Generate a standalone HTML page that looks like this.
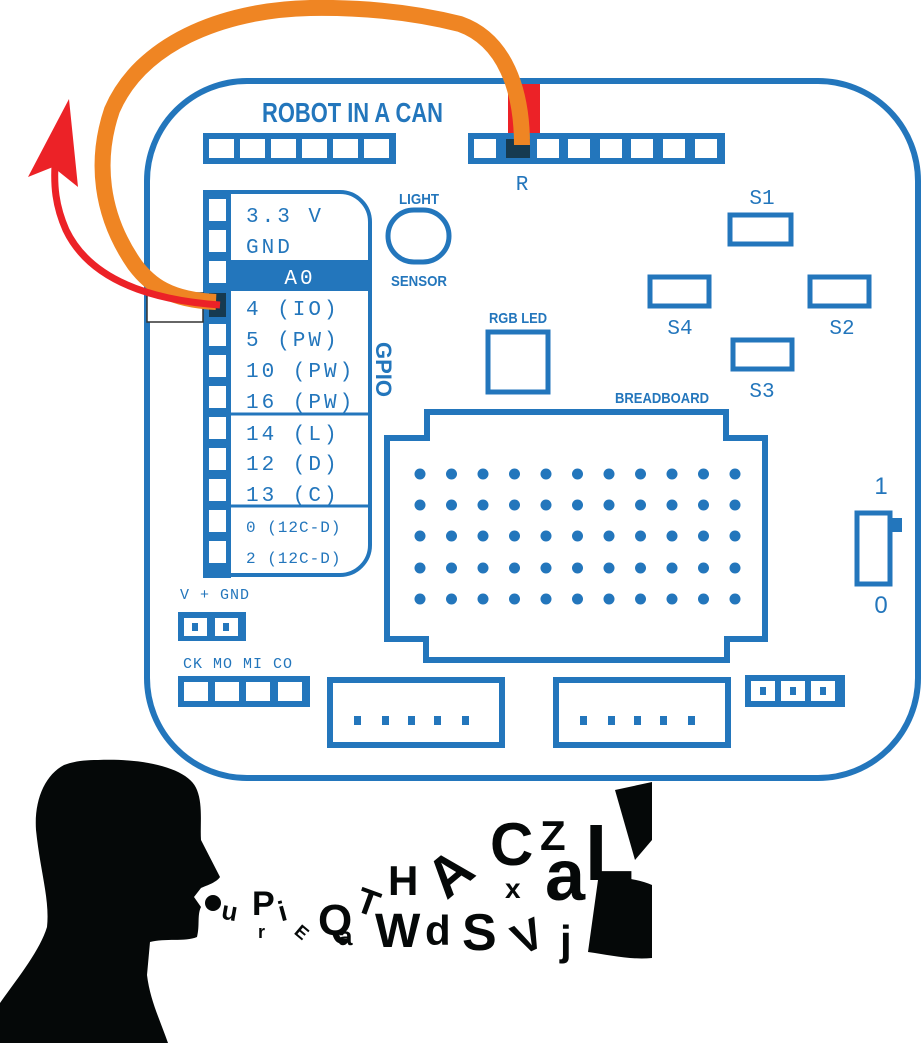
<!DOCTYPE html>
<html><head><meta charset="utf-8"><style>
html,body{margin:0;padding:0;background:#fff;}
svg{display:block}
.m{font-family:"Liberation Mono",monospace;fill:#2376bc;font-size:21px;letter-spacing:3px}
.b{font-family:"Liberation Sans",sans-serif;font-weight:bold;fill:#2376bc}
.k{font-family:"Liberation Sans",sans-serif;font-weight:bold;fill:#050808}
</style></head><body>
<svg width="922" height="1043" viewBox="0 0 922 1043" xmlns="http://www.w3.org/2000/svg">
<g fill="none" stroke="#2376bc" stroke-width="6">
<rect x="147" y="81" width="771" height="697" rx="100"/>
</g>
<rect x="508" y="84" width="32" height="50" fill="#ec2227"/>
<g fill="#2376bc">
<rect x="203" y="133" width="193" height="31"/>
<rect x="468" y="133" width="257" height="31"/>
</g>
<g fill="#fff">
<rect x="209" y="139" width="25" height="19"/><rect x="240" y="139" width="25" height="19"/><rect x="271" y="139" width="25" height="19"/><rect x="302" y="139" width="25" height="19"/><rect x="333" y="139" width="25" height="19"/><rect x="364" y="139" width="25" height="19"/>
<rect x="474" y="139" width="22" height="19"/><rect x="537" y="139" width="22" height="19"/><rect x="568" y="139" width="22" height="19"/><rect x="600" y="139" width="22" height="19"/><rect x="631" y="139" width="22" height="19"/><rect x="663" y="139" width="22" height="19"/><rect x="695" y="139" width="22" height="19"/>
</g>
<rect x="506" y="139" width="24" height="19" fill="#163a50"/>
<text x="262" y="122" class="b" font-size="28" textLength="181" lengthAdjust="spacingAndGlyphs">ROBOT IN A CAN</text>
<text x="522" y="190" class="m" text-anchor="middle" style="letter-spacing:0">R</text>
<rect x="203" y="190" width="28" height="388" fill="#2376bc"/>
<path d="M231 192 H340 A30 30 0 0 1 370 222 V545 A30 30 0 0 1 340 575 H231" fill="none" stroke="#2376bc" stroke-width="4"/>
<rect x="231" y="260" width="140" height="31" fill="#2376bc"/>
<line x1="231" y1="414" x2="370" y2="414" stroke="#2376bc" stroke-width="3"/>
<line x1="231" y1="506" x2="370" y2="506" stroke="#2376bc" stroke-width="3"/>
<g fill="#fff">
<rect x="209" y="199" width="17" height="22"/><rect x="209" y="230" width="17" height="22"/><rect x="209" y="261" width="17" height="22"/>
<rect x="209" y="324" width="17" height="22"/><rect x="209" y="355" width="17" height="22"/><rect x="209" y="386" width="17" height="22"/><rect x="209" y="417" width="17" height="22"/><rect x="209" y="448" width="17" height="22"/><rect x="209" y="479" width="17" height="22"/><rect x="209" y="510" width="17" height="22"/><rect x="209" y="541" width="17" height="22"/>
</g>
<rect x="147" y="293" width="56" height="29" fill="#fff" stroke="#333" stroke-width="1.5"/>
<rect x="209" y="293" width="17" height="24" fill="#163a50"/>
<text x="246" y="222" class="m">3.3 V</text>
<text x="246" y="253" class="m">GND</text>
<text x="300" y="284" class="m" style="fill:#fff" text-anchor="middle">A0</text>
<text x="246" y="315" class="m">4 (IO)</text>
<text x="246" y="346" class="m">5 (PW)</text>
<text x="246" y="377" class="m">10 (PW)</text>
<text x="246" y="408" class="m">16 (PW)</text>
<text x="246" y="440" class="m">14 (L)</text>
<text x="246" y="470" class="m">12 (D)</text>
<text x="246" y="501" class="m">13 (C)</text>
<text x="246" y="532" class="m" style="font-size:16px;letter-spacing:1px">0 (12C-D)</text>
<text x="246" y="563" class="m" style="font-size:16px;letter-spacing:1px">2 (12C-D)</text>
<text class="b" font-size="22" transform="translate(376,342) rotate(90)">GPIO</text>
<rect x="388" y="210" width="61" height="52" rx="26" fill="none" stroke="#2376bc" stroke-width="5"/>
<text x="419" y="204" class="b" font-size="15" text-anchor="middle" textLength="40" lengthAdjust="spacingAndGlyphs">LIGHT</text>
<text x="419" y="286" class="b" font-size="15" text-anchor="middle" textLength="56" lengthAdjust="spacingAndGlyphs">SENSOR</text>
<rect x="488" y="332" width="60" height="60" fill="none" stroke="#2376bc" stroke-width="5"/>
<text x="518" y="323" class="b" font-size="15" text-anchor="middle" textLength="58" lengthAdjust="spacingAndGlyphs">RGB LED</text>
<g fill="none" stroke="#2376bc" stroke-width="5">
<rect x="730" y="215" width="61" height="29"/>
<rect x="650" y="277" width="59" height="29"/>
<rect x="810" y="277" width="59" height="29"/>
<rect x="733" y="340" width="59" height="29"/>
</g>
<text x="762" y="204" class="m" text-anchor="middle" style="letter-spacing:0">S1</text>
<text x="680" y="334" class="m" text-anchor="middle" style="letter-spacing:0">S4</text>
<text x="842" y="334" class="m" text-anchor="middle" style="letter-spacing:0">S2</text>
<text x="762" y="397" class="m" text-anchor="middle" style="letter-spacing:0">S3</text>
<text x="662" y="403" class="b" font-size="15" text-anchor="middle" textLength="94" lengthAdjust="spacingAndGlyphs">BREADBOARD</text>
<path d="M427 412 H726 V438 H765 V639 H727 V660 H426 V639 H387 V438 H427 Z" fill="none" stroke="#2376bc" stroke-width="6"/>
<g fill="#2376bc">
<g id="row"><circle cx="420" cy="474" r="5.5"/><circle cx="451.5" cy="474" r="5.5"/><circle cx="483" cy="474" r="5.5"/><circle cx="514.5" cy="474" r="5.5"/><circle cx="546" cy="474" r="5.5"/><circle cx="577.5" cy="474" r="5.5"/><circle cx="609" cy="474" r="5.5"/><circle cx="640.5" cy="474" r="5.5"/><circle cx="672" cy="474" r="5.5"/><circle cx="703.5" cy="474" r="5.5"/><circle cx="735" cy="474" r="5.5"/></g>
<use href="#row" y="31"/><use href="#row" y="62"/><use href="#row" y="94"/><use href="#row" y="125"/>
</g>
<rect x="857" y="513" width="33" height="71" fill="none" stroke="#2376bc" stroke-width="5"/>
<rect x="889" y="518" width="13" height="14" fill="#2376bc"/>
<text x="881" y="494" font-family="Liberation Sans,sans-serif" font-size="24" fill="#2376bc" text-anchor="middle">1</text>
<text x="881" y="613" font-family="Liberation Sans,sans-serif" font-size="24" fill="#2376bc" text-anchor="middle">0</text>
<text x="180" y="599" class="m" style="font-size:15px;letter-spacing:1px">V + GND</text>
<rect x="178" y="612" width="68" height="29" fill="#2376bc"/>
<rect x="184" y="618" width="23" height="18" fill="#fff"/><rect x="215" y="618" width="23" height="18" fill="#fff"/>
<rect x="192" y="623" width="6" height="8" fill="#2376bc"/><rect x="223" y="623" width="6" height="8" fill="#2376bc"/>
<text x="183" y="668" class="m" style="font-size:15px;letter-spacing:1px">CK MO MI CO</text>
<rect x="178" y="676" width="132" height="31" fill="#2376bc"/>
<g fill="#fff"><rect x="184" y="682" width="24" height="19"/><rect x="215" y="682" width="24" height="19"/><rect x="246" y="682" width="24" height="19"/><rect x="278" y="682" width="24" height="19"/></g>
<g fill="none" stroke="#2376bc" stroke-width="6">
<rect x="330" y="680" width="172" height="65"/>
<rect x="556" y="680" width="172" height="65"/>
</g>
<g fill="#2376bc">
<rect x="354" y="716" width="7" height="9"/><rect x="382" y="716" width="7" height="9"/><rect x="408" y="716" width="7" height="9"/><rect x="434" y="716" width="7" height="9"/><rect x="462" y="716" width="7" height="9"/>
<rect x="580" y="716" width="7" height="9"/><rect x="608" y="716" width="7" height="9"/><rect x="634" y="716" width="7" height="9"/><rect x="660" y="716" width="7" height="9"/><rect x="688" y="716" width="7" height="9"/>
<rect x="745" y="675" width="100" height="32"/>
</g>
<g fill="#fff"><rect x="751" y="681" width="24" height="20"/><rect x="781" y="681" width="24" height="20"/><rect x="811" y="681" width="24" height="20"/></g>
<g fill="#2376bc"><rect x="760" y="687" width="6" height="8"/><rect x="790" y="687" width="6" height="8"/><rect x="820" y="687" width="6" height="8"/></g>
<path d="M216 302 C170 300 150 285 135 265 C100 215 95 160 112 110 C140 45 220 10 310 8 C370 7 420 14 460 24 C505 40 522 90 522 145" fill="none" stroke="#ef8523" stroke-width="16"/>
<path d="M220 305 C150 300 90 280 66 230 C55 205 54 185 55 165" fill="none" stroke="#ec2227" stroke-width="7"/>
<path d="M69 99 L28 177 L53 167 L78 187 Z" fill="#ec2227"/>
<path d="M98 760 C150 758 190 770 197 790 C203 805 200 825 201 840 L220 877 C216 883 205 886 201 888 L194 897 L201 907 C197 915 200 925 197 937 C185 942 165 938 150 942 L147 975 C150 1000 160 1020 168 1043 L0 1043 L0 1003 C20 975 40 950 47 927 C50 900 40 870 36 830 C34 800 45 775 64 765 C75 761 85 760 98 760 Z" fill="#050808"/>
<g class="k">
<circle cx="213" cy="903" r="8" fill="#050808"/>
<text x="222" y="920" font-size="26" transform="rotate(10 230 910)">u</text>
<text x="252" y="915" font-size="34">P</text>
<text x="277" y="920" font-size="28" transform="rotate(-15 285 905)">i</text>
<text x="258" y="938" font-size="18">r</text>
<text x="298" y="940" font-size="18" transform="rotate(40 305 930)">E</text>
<text x="318" y="935" font-size="44">Q</text>
<text x="338" y="945" font-size="26">a</text>
<text x="358" y="915" font-size="36" transform="rotate(20 370 900)">T</text>
<text x="388" y="895" font-size="42">H</text>
<text x="375" y="947" font-size="48">W</text>
<text x="425" y="945" font-size="42">d</text>
<text x="430" y="885" font-size="56" transform="rotate(-40 460 870)">A</text>
<text x="462" y="950" font-size="52">S</text>
<text x="490" y="865" font-size="60">C</text>
<text x="505" y="898" font-size="28">x</text>
<text x="540" y="850" font-size="42">Z</text>
<text x="510" y="952" font-size="44" transform="rotate(-25 525 930)">V</text>
<text x="545" y="900" font-size="72">a</text>
<text x="560" y="955" font-size="42">j</text>
<text x="585" y="880" font-size="80">L</text>
</g>
<path d="M598 880 C620 875 640 880 652 885 V958 C630 960 610 955 588 952 Z" fill="#050808"/>
<path d="M615 790 L652 782 V840 L635 860 Z" fill="#050808"/>
</svg>
</body></html>
